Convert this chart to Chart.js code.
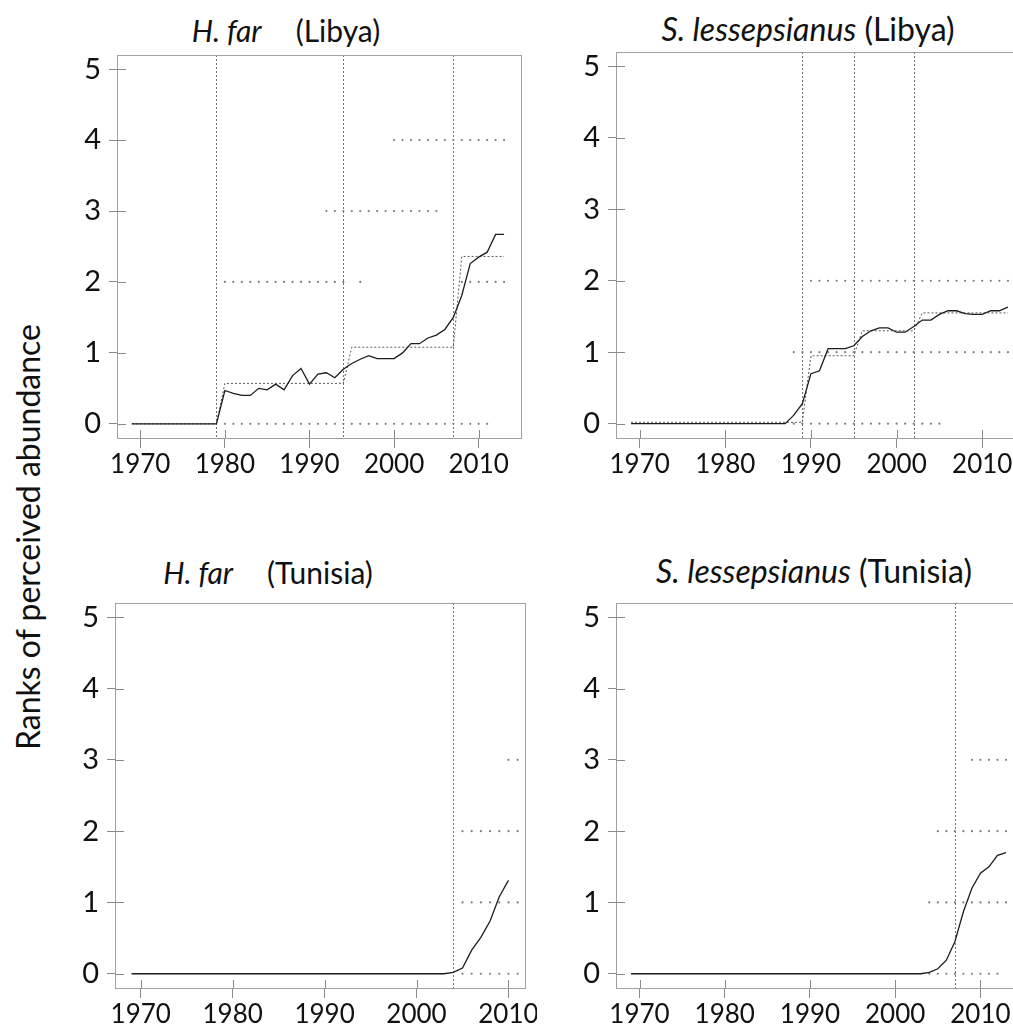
<!DOCTYPE html>
<html>
<head>
<meta charset="utf-8">
<script src="https://cdn.jsdelivr.net/npm/chart.js@4.4.1/dist/chart.umd.min.js"></script>
<style>
html,body{margin:0;padding:0;background:#fff;width:1013px;height:1026px;overflow:hidden;}
body{position:relative;font-family:Lato,"Open Sans",sans-serif;color:#111;}
.pc{position:absolute;}
.title{position:absolute;width:500px;text-align:center;font-size:30px;line-height:30px;white-space:nowrap;color:#111;}
.title.big{font-size:32px;}
.ylab{position:absolute;width:560px;height:36px;line-height:36px;text-align:center;font-size:32px;transform:rotate(-90deg);transform-origin:50% 50%;color:#111;white-space:nowrap;}
</style>
</head>
<body>
<div class="title" style="left:36px;top:15px;"><i>H. far</i><span style="margin-left:34px">(Libya)</span></div>
<div class="title big" style="left:558px;top:14px;"><i>S. lessepsianus</i> (Libya)</div>
<div class="title" style="left:18px;top:557px;"><i>H. far</i><span style="margin-left:34px">(Tunisia)</span></div>
<div class="title big" style="left:564px;top:556px;"><i>S. lessepsianus</i> (Tunisia)</div>
<div class="ylab" style="left:-252px;top:519px;">Ranks of perceived abundance</div>

<div class="pc" id="w1"><canvas id="c1"></canvas></div>
<div class="pc" id="w2"><canvas id="c2"></canvas></div>
<div class="pc" id="w3"><canvas id="c3"></canvas></div>
<div class="pc" id="w4"><canvas id="c4"></canvas></div>

<script>
// ---------------- DATA ----------------
const X_TICKS = [1970, 1980, 1990, 2000, 2010];
const Y_TICKS = [0, 1, 2, 3, 4, 5];

const YEARS_1969_2013 = [1969,1970,1971,1972,1973,1974,1975,1976,1977,1978,1979,1980,1981,1982,1983,1984,1985,1986,1987,1988,1989,1990,1991,1992,1993,1994,1995,1996,1997,1998,1999,2000,2001,2002,2003,2004,2005,2006,2007,2008,2009,2010,2011,2012,2013];
const YEARS_1969_2010 = [1969,1970,1971,1972,1973,1974,1975,1976,1977,1978,1979,1980,1981,1982,1983,1984,1985,1986,1987,1988,1989,1990,1991,1992,1993,1994,1995,1996,1997,1998,1999,2000,2001,2002,2003,2004,2005,2006,2007,2008,2009,2010];

// Mean perceived abundance (solid line)
const HFAR_LIBYA = [0,0,0,0,0,0,0,0,0,0,0,
  0.47,0.43,0.40,0.40,0.50,0.48,0.56,0.48,0.68,0.78,
  0.56,0.70,0.72,0.65,0.77,0.85,0.91,0.96,0.92,0.92,
  0.92,1.00,1.13,1.13,1.21,1.25,1.33,1.50,1.81,2.26,
  2.35,2.42,2.67,2.67];
const SLESS_LIBYA = [0,0,0,0,0,0,0,0,0,0,0,0,0,0,0,0,0,0,0,
  0.12,0.28,
  0.70,0.74,1.05,1.05,1.05,1.09,1.22,1.30,1.34,1.34,
  1.28,1.28,1.36,1.45,1.45,1.53,1.58,1.58,1.54,1.53,
  1.53,1.58,1.58,1.63];
const HFAR_TUNISIA = [0,0,0,0,0,0,0,0,0,0,0,0,0,0,0,0,0,0,0,0,0,0,0,0,0,0,0,0,0,0,0,0,0,0,0,
  0.02,0.08,0.33,0.51,0.74,1.08,1.31];
const SLESS_TUNISIA = [0,0,0,0,0,0,0,0,0,0,0,0,0,0,0,0,0,0,0,0,0,0,0,0,0,0,0,0,0,0,0,0,0,0,0,
  0.02,0.07,0.19,0.45,0.87,1.20,1.41,1.50,1.66,1.70];

// Period means (dotted step line)
const HFAR_LIBYA_PERIOD_START = [1969, 1980, 1995, 2008];
const HFAR_LIBYA_PERIOD_END   = [1979, 1994, 2007, 2013];
const HFAR_LIBYA_PERIOD_MEAN  = [0, 0.57, 1.08, 2.36];
const SLESS_LIBYA_PERIOD_START = [1969, 1990, 1996, 2003];
const SLESS_LIBYA_PERIOD_END   = [1989, 1995, 2002, 2013];
const SLESS_LIBYA_PERIOD_MEAN  = [0.02, 0.95, 1.30, 1.55];

// Breakpoints (vertical dotted lines)
const HFAR_LIBYA_BREAKS = [1979, 1994, 2007];
const SLESS_LIBYA_BREAKS = [1989, 1995, 2002];
const HFAR_TUNISIA_BREAKS = [2004];
const SLESS_TUNISIA_BREAKS = [2007];

// Individual rank answers (grey dots): years at which each rank was given
const HFAR_LIBYA_R0 = [1980,1981,1982,1983,1984,1985,1986,1987,1988,1989,1990,1991,1992,1993,1994,1995,1996,1997,1998,1999,2000,2001,2002,2003,2004,2005,2006,2007,2008,2009,2010,2011];
const HFAR_LIBYA_R2 = [1980,1981,1982,1983,1984,1985,1986,1987,1988,1989,1990,1991,1992,1993,1994,1996,2008,2009,2010,2011,2012,2013];
const HFAR_LIBYA_R3 = [1992,1993,1994,1995,1996,1997,1998,1999,2000,2001,2002,2003,2004,2005];
const HFAR_LIBYA_R4 = [2000,2001,2002,2003,2004,2005,2006,2007,2008,2009,2010,2011,2012,2013];

const SLESS_LIBYA_R0 = [1988,1989,1990,1991,1992,1993,1994,1995,1996,1997,1998,1999,2000,2001,2002,2003,2004,2005];
const SLESS_LIBYA_R1 = [1988,1989,1990,1991,1992,1993,1994,1995,1996,1997,1998,1999,2000,2001,2002,2003,2004,2005,2006,2007,2008,2009,2010,2011,2012,2013];
const SLESS_LIBYA_R2 = [1990,1991,1992,1993,1994,1995,1996,1997,1998,1999,2000,2001,2002,2003,2004,2005,2006,2007,2008,2009,2010,2011,2012,2013];

const HFAR_TUNISIA_R0 = [2005,2006,2007,2008,2009,2010,2011];
const HFAR_TUNISIA_R1 = [2005,2006,2007,2008,2009,2010,2011];
const HFAR_TUNISIA_R2 = [2005,2006,2007,2008,2009,2010,2011];
const HFAR_TUNISIA_R3 = [2010,2011];

const SLESS_TUNISIA_R0 = [2004,2005,2006,2007,2008,2009,2010,2011,2012];
const SLESS_TUNISIA_R1 = [2004,2005,2006,2007,2008,2009,2010,2011,2012,2013];
const SLESS_TUNISIA_R2 = [2005,2006,2007,2008,2009,2010,2011,2012,2013];
const SLESS_TUNISIA_R3 = [2009,2010,2011,2012,2013];

// ---------------- LAYOUT ----------------
const YW = 70, XH = 50, PADT = 10, PADR = 12;

const PANELS = [
  { id:'1', box:{left:117, top:55, w:404, h:383}, xMin:1967.25, xMax:2015.0,
    years:YEARS_1969_2013, values:HFAR_LIBYA,
    periods:[HFAR_LIBYA_PERIOD_START, HFAR_LIBYA_PERIOD_END, HFAR_LIBYA_PERIOD_MEAN],
    breaks:HFAR_LIBYA_BREAKS,
    dots:[[0,HFAR_LIBYA_R0],[2,HFAR_LIBYA_R2],[3,HFAR_LIBYA_R3],[4,HFAR_LIBYA_R4]] },
  { id:'2', box:{left:616, top:52, w:407, h:386}, xMin:1967.24, xMax:2014.76,
    years:YEARS_1969_2013, values:SLESS_LIBYA,
    periods:[SLESS_LIBYA_PERIOD_START, SLESS_LIBYA_PERIOD_END, SLESS_LIBYA_PERIOD_MEAN],
    breaks:SLESS_LIBYA_BREAKS,
    dots:[[0,SLESS_LIBYA_R0],[1,SLESS_LIBYA_R1],[2,SLESS_LIBYA_R2]] },
  { id:'3', box:{left:115, top:603, w:410, h:385}, xMin:1967.2, xMax:2011.8,
    years:YEARS_1969_2010, values:HFAR_TUNISIA,
    periods:null, breaks:HFAR_TUNISIA_BREAKS,
    dots:[[0,HFAR_TUNISIA_R0],[1,HFAR_TUNISIA_R1],[2,HFAR_TUNISIA_R2],[3,HFAR_TUNISIA_R3]] },
  { id:'4', box:{left:616, top:603, w:405, h:385}, xMin:1967.24, xMax:2014.76,
    years:YEARS_1969_2013, values:SLESS_TUNISIA,
    periods:null, breaks:SLESS_TUNISIA_BREAKS,
    dots:[[0,SLESS_TUNISIA_R0],[1,SLESS_TUNISIA_R1],[2,SLESS_TUNISIA_R2],[3,SLESS_TUNISIA_R3]] }
];

const framePlugin = {
  id: 'frame',
  beforeDatasetsDraw(chart, args, opts) {
    const { ctx, chartArea: a, scales: { x } } = chart;
    ctx.save();
    ctx.strokeStyle = '#707070';
    ctx.lineWidth = 1;
    ctx.setLineDash([2, 2]);
    (opts.breaks || []).forEach(b => {
      const px = Math.round(x.getPixelForValue(b)) + 0.5;
      ctx.beginPath();
      ctx.moveTo(px, a.top);
      ctx.lineTo(px, a.bottom);
      ctx.stroke();
    });
    ctx.restore();
  },
  afterDraw(chart) {
    const { ctx, chartArea: a, scales: { x, y } } = chart;
    ctx.save();
    ctx.strokeStyle = '#a0a0a0';
    ctx.lineWidth = 1;
    ctx.strokeRect(Math.round(a.left) + 0.5, Math.round(a.top) + 0.5,
                   Math.round(a.right - a.left), Math.round(a.bottom - a.top));
    ctx.strokeStyle = '#8a8a8a';
    ctx.beginPath();
    x.ticks.forEach(t => {
      const px = Math.round(x.getPixelForValue(t.value)) + 0.5;
      ctx.moveTo(px, a.bottom); ctx.lineTo(px, a.bottom - 8);
    });
    y.ticks.forEach(t => {
      const py = Math.round(y.getPixelForValue(t.value)) + 0.5;
      ctx.moveTo(a.left, py); ctx.lineTo(a.left + 9, py);
    });
    ctx.stroke();
    ctx.restore();
  }
};

function buildChart(p) {
  const wrap = document.getElementById('w' + p.id);
  const cv = document.getElementById('c' + p.id);
  const W = YW + p.box.w + PADR, H = PADT + p.box.h + XH;
  wrap.style.left = (p.box.left - YW) + 'px';
  wrap.style.top = (p.box.top - PADT) + 'px';
  wrap.style.width = W + 'px';
  wrap.style.height = H + 'px';
  cv.width = W; cv.height = H;
  cv.style.width = W + 'px'; cv.style.height = H + 'px';

  const datasets = [];
  const dotPts = [];
  p.dots.forEach(([rank, yrs]) => yrs.forEach(yr => dotPts.push({ x: yr, y: rank })));
  datasets.push({ data: dotPts, showLine: false, pointRadius: 1.1, pointBackgroundColor: '#7c7c7c',
                  pointBorderWidth: 0, pointHoverRadius: 0, order: 3 });
  if (p.periods) {
    const [s, e, m] = p.periods;
    const stepPts = [];
    s.forEach((st, i) => { stepPts.push({ x: st, y: m[i] }); stepPts.push({ x: e[i], y: m[i] }); });
    datasets.push({ data: stepPts, showLine: true, pointRadius: 0, borderColor: '#5a5a5a',
                    borderWidth: 1, borderDash: [2, 2], tension: 0, order: 2 });
  }
  datasets.push({ data: p.years.map((yr, i) => ({ x: yr, y: p.values[i] })), showLine: true,
                  pointRadius: 0, borderColor: '#1c1c1c', borderWidth: 1.3, tension: 0, order: 1 });

  new Chart(cv, {
    type: 'scatter',
    data: { datasets },
    options: {
      responsive: false, animation: false, devicePixelRatio: 1,
      events: [],
      layout: { padding: { left: 0, top: PADT, right: PADR, bottom: 0 } },
      plugins: { legend: { display: false }, tooltip: { enabled: false }, frame: { breaks: p.breaks } },
      scales: {
        x: {
          type: 'linear', position: 'bottom', min: p.xMin, max: p.xMax,
          afterBuildTicks: s => { s.ticks = X_TICKS.map(v => ({ value: v })); },
          afterFit: s => { s.height = XH; s.paddingLeft = 0; s.paddingRight = 0; },
          ticks: { font: { family: 'Lato', size: 26 }, color: '#111', padding: 1, maxRotation: 0,
                   autoSkip: false, callback: v => String(v) },
          grid: { display: true, drawOnChartArea: false, drawTicks: true, tickLength: 10,
                  color: '#8a8a8a', lineWidth: 1 },
          border: { display: false }
        },
        y: {
          type: 'linear', position: 'left', min: -0.2, max: 5.2,
          afterBuildTicks: s => { s.ticks = Y_TICKS.map(v => ({ value: v })); },
          afterFit: s => { s.width = YW; s.paddingTop = 0; s.paddingBottom = 0; },
          ticks: { font: { family: 'Lato', size: 29 }, color: '#111', padding: 8,
                   autoSkip: false, callback: v => String(v) },
          grid: { display: true, drawOnChartArea: false, drawTicks: true, tickLength: 8,
                  color: '#8a8a8a', lineWidth: 1 },
          border: { display: false }
        }
      }
    },
    plugins: [framePlugin]
  });
}

function go() { PANELS.forEach(buildChart); }
if (document.fonts && document.fonts.load) {
  Promise.all([document.fonts.load('26px Lato'), document.fonts.load('italic 30px Lato')])
    .then(go, go);
} else { go(); }
</script>
</body>
</html>
